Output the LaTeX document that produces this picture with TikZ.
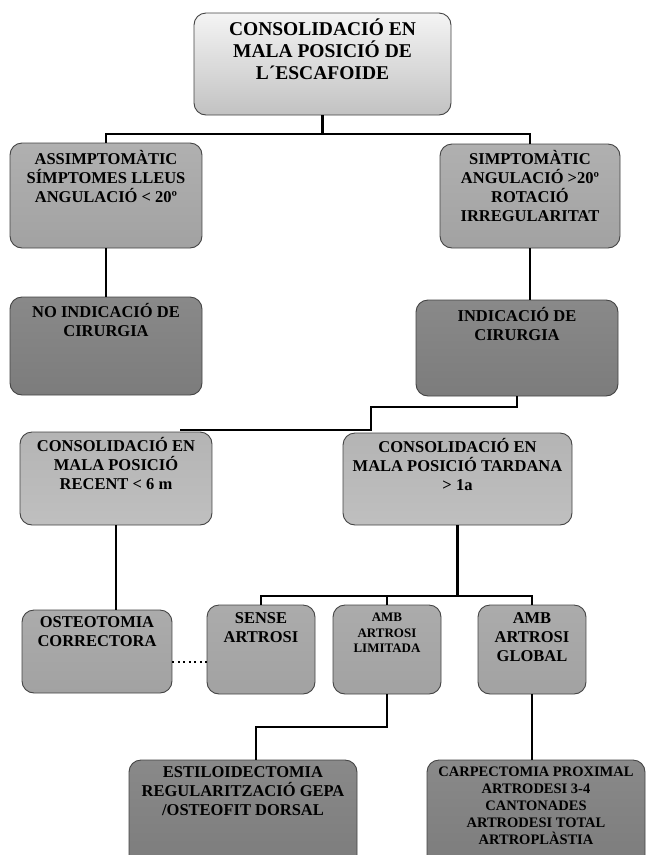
\documentclass[tikz,border=0pt]{standalone}
\usepackage{fontspec}
\setmainfont{Liberation Serif}
\usepackage[svgnames]{xcolor}
\usepackage{tikz}
\usetikzlibrary{positioning}
\usetikzlibrary{backgrounds}

\definecolor{rimgray}{HTML}{444444}
\definecolor{paletop}{HTML}{F4F4F4}
\definecolor{palebot}{HTML}{C2C2C2}
\definecolor{midgray}{HTML}{A2A2A2}
\definecolor{darkgray}{HTML}{7C7C7C}
\definecolor{lightgray}{HTML}{B4B4B4}

\tikzset{
    box/.style={draw=rimgray, line width=0.9pt, rounded corners=12pt, inner sep=0pt},
    rootbox/.style={box, top color=paletop, bottom color=palebot},
    lvlone/.style={box, top color=midgray!85!white, bottom color=midgray},
    lvltwo/.style={box, top color=darkgray!90!white, bottom color=darkgray},
    lvlthree/.style={box, top color=lightgray, bottom color=lightgray!85!white},
    lvlfour/.style={box, top color=midgray!90!white, bottom color=midgray},
    lvlfive/.style={box, top color=darkgray!90!white, bottom color=darkgray},
    txt/.style={anchor=north, align=center, inner sep=0pt,
        execute at begin node={\vrule height 0.95em depth 0pt width 0pt},
        font=\bfseries\fontsize{16.5}{19}\selectfont},
    txtbig/.style={txt, font=\bfseries\fontsize{19.5}{22}\selectfont},
    txtsmall/.style={txt, font=\bfseries\fontsize{13}{15.5}\selectfont},
    txtlist/.style={txt, font=\bfseries\fontsize{14.5}{17}\selectfont},
    conn/.style={line width=2.3pt},
    dots/.style={line width=2.3pt, dash pattern=on 2pt off 3.5pt}
}

\begin{document}
\begin{tikzpicture}[x=1pt,y=-1pt]
\fill[white] (0,0) rectangle (646,855);
\useasboundingbox (0,0) rectangle (646,855);

\node[rootbox, minimum width=257pt, minimum height=102pt] (root) at (322.5,64) {};
\node[lvlone, minimum width=192pt, minimum height=105pt] (asim) at (106,195.5) {};
\node[lvlone, minimum width=180pt, minimum height=104pt] (simp) at (530,196) {};
\node[lvltwo, minimum width=192pt, minimum height=98pt] (noind) at (106,346) {};
\node[lvltwo, minimum width=202pt, minimum height=96pt] (indic) at (517,348) {};
\node[lvlthree, minimum width=192pt, minimum height=93pt] (recent) at (116,478.5) {};
\node[lvlthree, minimum width=229pt, minimum height=92pt] (tard) at (457.5,479) {};
\node[lvlfour, minimum width=150pt, minimum height=83pt] (osteo) at (97,651.5) {};
\node[lvlfour, minimum width=108pt, minimum height=89pt] (sense) at (261,649.5) {};
\node[lvlfour, minimum width=108pt, minimum height=89pt] (limit) at (387,649.5) {};
\node[lvlfour, minimum width=108pt, minimum height=89pt] (global) at (532,649.5) {};
\node[lvlfive, minimum width=228pt, minimum height=110pt] (estilo) at (243,815) {};
\node[lvlfive, minimum width=218pt, minimum height=110pt] (carp) at (536,815) {};

\node[txtbig] (root-t) at ([yshift=-6.5pt]root.north) {CONSOLIDACIÓ EN\\MALA POSICIÓ DE\\L´ESCAFOIDE};
\node[txt] (asim-t) at ([yshift=-7.4pt]asim.north) {ASSIMPTOMÀTIC\\SÍMPTOMES LLEUS\\ANGULACIÓ < 20º};
\node[txt] (simp-t) at ([yshift=-6.4pt]simp.north) {SIMPTOMÀTIC\\ANGULACIÓ >20º\\ROTACIÓ\\IRREGULARITAT};
\node[txt] (noind-t) at ([yshift=-6.4pt]noind.north) {NO INDICACIÓ DE\\CIRURGIA};
\node[txt] (indic-t) at ([yshift=-7.4pt]indic.north) {INDICACIÓ DE\\CIRURGIA};
\node[txt] (recent-t) at ([yshift=-5.4pt]recent.north) {CONSOLIDACIÓ EN\\MALA POSICIÓ\\RECENT < 6 m};
\node[txt] (tard-t) at ([yshift=-5.4pt]tard.north) {CONSOLIDACIÓ EN\\MALA POSICIÓ TARDANA\\> 1a};
\node[txt] (osteo-t) at ([yshift=-6.4pt]osteo.north) {OSTEOTOMIA\\CORRECTORA};
\node[txt] (sense-t) at ([yshift=-7.4pt]sense.north) {SENSE\\ARTROSI};
\node[txtsmall] (limit-t) at ([yshift=-8.2pt]limit.north) {AMB\\ARTROSI\\LIMITADA};
\node[txt] (global-t) at ([yshift=-7.4pt]global.north) {AMB\\ARTROSI\\GLOBAL};
\node[txt] (estilo-t) at ([yshift=-6.4pt]estilo.north) {ESTILOIDECTOMIA\\REGULARITZACIÓ GEPA\\/OSTEOFIT DORSAL};
\node[txtlist] (carp-t) at ([yshift=-6.8pt]carp.north) {CARPECTOMIA PROXIMAL\\ARTRODESI 3-4\\CANTONADES\\ARTRODESI TOTAL\\ARTROPLÀSTIA};

\coordinate (bar) at (322.5,134);
\coordinate (kink) at (371,407);
\coordinate (splitend) at (180,430);
\coordinate (fork) at (457.5,596);
\coordinate (elbow) at (256,727);

\draw[conn] (root.south) -- (bar);
\draw[conn] (asim.north) -- (asim.north |- bar) -- (simp.north |- bar) -- (simp.north);
\draw[conn] (asim.south) -- (noind.north);
\draw[conn] (simp.south) -- (simp.south |- indic.north);
\draw[conn] (indic.south) |- (kink) |- (splitend);
\draw[conn] (recent.south) -- (recent.south |- osteo.north);
\draw[conn] (tard.south) -- (fork);
\draw[conn] (sense.north) |- (fork) -| (global.north);
\draw[conn] (limit.north) -- (limit.north |- fork);
\draw[conn] (limit.south) |- (elbow) -- (elbow |- estilo.north);
\draw[conn] (global.south) -- (global.south |- carp.north);
\draw[dots] ([yshift=-10.5pt]osteo.east) -- ([yshift=-10.5pt]osteo.east -| sense.west);
\end{tikzpicture}
\end{document}
